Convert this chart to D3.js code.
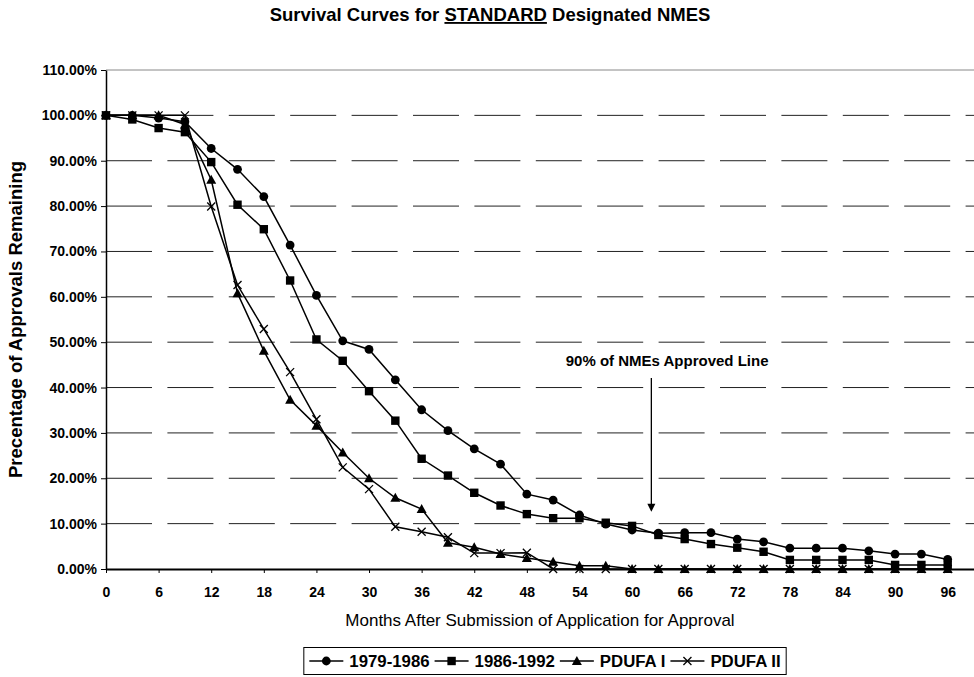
<!DOCTYPE html>
<html>
<head>
<meta charset="utf-8">
<script src="https://cdn.jsdelivr.net/npm/d3@7/dist/d3.min.js"></script>
<style>
  body { margin: 0; background: #fff; }
  svg { font-family: Arial, "Liberation Sans", sans-serif; }
</style>
</head>
<body>
<div class="main"></div>
<script>
// Paramètres du graphique
const width = 974;
const height = 677;
const margin = { top: 70, right: 0, bottom: 108, left: 106 };

// Données (mois après soumission, % restant)
const months = [0, 3, 6, 9, 12, 15, 18, 21, 24, 27, 30, 33, 36, 39, 42, 45, 48,
  51, 54, 57, 60, 63, 66, 69, 72, 75, 78, 81, 84, 87, 90, 93, 96];

const s1979 = [100, 100, 99.4, 98.6, 92.7, 88.1, 82.1, 71.4, 60.3, 50.3, 48.4, 41.7, 35.1,
  30.5, 26.5, 23.1, 16.5, 15.2, 11.9, 9.9, 8.6, 7.9, 8.0, 8.0, 6.6, 6.0, 4.6, 4.6, 4.6,
  4.0, 3.3, 3.3, 2.1];
const s1986 = [100, 99.1, 97.2, 96.3, 89.7, 80.3, 74.9, 63.6, 50.6, 45.9, 39.2, 32.7, 24.3,
  20.6, 16.8, 14.0, 12.1, 11.2, 11.2, 10.2, 9.5, 7.5, 6.6, 5.5, 4.7, 3.8, 2.0, 2.0, 2.0,
  2.0, 0.9, 0.9, 0.9];
const pdufa1 = [100, 100, 100, 98.0, 85.8, 60.8, 48.1, 37.3, 31.6, 25.7, 20.0, 15.7, 13.2,
  5.8, 4.8, 3.3, 2.4, 1.6, 0.7, 0.7, 0, 0, 0, 0, 0, 0, 0, 0, 0, 0, 0, 0, 0];
const pdufa2 = [100, 100, 100, 100, 79.9, 62.6, 52.9, 43.4, 33.0, 22.4, 17.6, 9.3, 8.2,
  7.0, 3.5, 3.5, 3.6, 0, 0, 0, 0, 0, 0, 0, 0, 0, 0, 0, 0, 0, 0, 0, 0];

const seriesNames = ['1979-1986', '1986-1992', 'PDUFA I', 'PDUFA II'];
const seriesValues = [s1979, s1986, pdufa1, pdufa2];
const markers = ['circle', 'square', 'triangle', 'cross'];

const xTicks = [0, 6, 12, 18, 24, 30, 36, 42, 48, 54, 60, 66, 72, 78, 84, 90, 96];
const yTicks = [0, 10, 20, 30, 40, 50, 60, 70, 80, 90, 100, 110];

// Annotation : flèche "90% of NMEs Approved Line"
const annotText = '90% of NMEs Approved Line';
const annotMonth = 62.2;
const annotTextMonth = 64;
const annotFrom = 42.1;
const annotTo = 12.6;

const series = seriesNames.map((name, i) => ({
  name: name,
  marker: markers[i],
  points: months.map((m, j) => ({ mois: m, val: seriesValues[i][j] }))
}));

// Créer l'élément SVG
const svg = d3.select('.main')
  .append('svg')
  .attr('width', width)
  .attr('height', height);

// Échelles
const x = d3.scaleLinear()
  .domain([0, 99])
  .range([margin.left, width - margin.right]);

const y = d3.scaleLinear()
  .domain([0, 110])
  .range([height - margin.bottom, margin.top]);

// Titre
const title = svg.append('text')
  .attr('x', 490)
  .attr('y', 21)
  .attr('text-anchor', 'middle')
  .style('font-weight', 'bold')
  .style('font-size', '18.5px');
title.append('tspan').text('Survival Curves for ');
title.append('tspan').style('text-decoration', 'underline').text('STANDARD');
title.append('tspan').text(' Designated NMES');

// Lignes de la grille
svg.append('g')
  .selectAll('line')
  .data(yTicks.filter(d => d > 0))
  .enter()
  .append('line')
  .attr('x1', x(0))
  .attr('x2', width - margin.right)
  .attr('y1', d => y(d))
  .attr('y2', d => y(d))
  .attr('stroke', d => d === 110 ? '#888' : '#222')
  .attr('stroke-width', 1)
  .attr('stroke-dasharray', d => d === 110 ? null : '46 15.4');

// Axe vertical
const yAxis = svg.append('g')
  .attr('transform', `translate(${x(0)}, 0)`)
  .call(d3.axisLeft(y).tickValues(yTicks).tickSize(5).tickSizeOuter(0)
    .tickFormat(d => d.toFixed(2) + '%'));
yAxis.select('.domain').attr('stroke-width', 1.5);
yAxis.selectAll('text')
  .attr('x', -9)
  .style('font-size', '14px')
  .style('font-weight', 'bold')
  .style('font-family', 'Arial, "Liberation Sans", sans-serif');

// Axe horizontal
const xAxis = svg.append('g')
  .attr('transform', `translate(0, ${y(0)})`)
  .call(d3.axisBottom(x).tickValues(xTicks).tickSize(4).tickSizeOuter(0));
xAxis.select('.domain').attr('stroke-width', 2);
xAxis.selectAll('text')
  .attr('y', 28)
  .attr('dy', null)
  .style('font-size', '14px')
  .style('font-weight', 'bold')
  .style('font-family', 'Arial, "Liberation Sans", sans-serif');

// Titres des axes
svg.append('text')
  .attr('transform', `translate(22, ${(y(0) + y(110)) / 2}) rotate(-90)`)
  .attr('text-anchor', 'middle')
  .style('font-size', '18.5px')
  .style('font-weight', 'bold')
  .text('Precentage of Approvals Remaining');

svg.append('text')
  .attr('x', (x(0) + width - margin.right) / 2)
  .attr('y', 626)
  .attr('text-anchor', 'middle')
  .style('font-size', '17px')
  .text('Months After Submission of Application for Approval');

// Symboles
function drawMarker(g, type) {
  if (type === 'circle') {
    g.append('circle').attr('r', 4.4).attr('fill', '#000');
  } else if (type === 'square') {
    g.append('rect').attr('x', -4.2).attr('y', -4.2).attr('width', 8.4).attr('height', 8.4).attr('fill', '#000');
  } else if (type === 'triangle') {
    g.append('path').attr('d', 'M0,-5L5,4L-5,4Z').attr('fill', '#000');
  } else {
    g.append('path').attr('d', 'M-4,-4L4,4M-4,4L4,-4').attr('stroke', '#000').attr('stroke-width', 1.3).attr('fill', 'none');
  }
}

const line = d3.line()
  .x(d => x(d.mois))
  .y(d => y(d.val));

const serieG = svg.append('g')
  .selectAll('g')
  .data(series)
  .enter()
  .append('g');

serieG.append('path')
  .attr('d', d => line(d.points))
  .attr('fill', 'none')
  .attr('stroke', '#000')
  .attr('stroke-width', 1.5);

serieG.each(function (s) {
  d3.select(this).selectAll('g.pt')
    .data(s.points)
    .enter()
    .append('g')
    .attr('class', 'pt')
    .attr('transform', d => `translate(${x(d.mois)}, ${y(d.val)})`)
    .each(function () { drawMarker(d3.select(this), s.marker); });
});

// Annotation
svg.append('text')
  .attr('x', x(annotTextMonth))
  .attr('y', y(annotFrom) - 12)
  .attr('text-anchor', 'middle')
  .style('font-size', '15px')
  .style('font-weight', 'bold')
  .text(annotText);

svg.append('line')
  .attr('x1', x(annotMonth))
  .attr('x2', x(annotMonth))
  .attr('y1', y(annotFrom))
  .attr('y2', y(annotTo) - 6)
  .attr('stroke', '#000')
  .attr('stroke-width', 1.3);

svg.append('path')
  .attr('d', `M${x(annotMonth) - 4},${y(annotTo) - 8}L${x(annotMonth) + 4},${y(annotTo) - 8}L${x(annotMonth)},${y(annotTo)}Z`)
  .attr('fill', '#000');

// Légende
const legend = svg.append('g');
const legBox = legend.append('rect');
let cx = 0;
series.forEach(s => {
  const item = legend.append('g').attr('transform', `translate(${cx}, 0)`);
  item.append('line').attr('x1', 0).attr('x2', 34).attr('stroke', '#000').attr('stroke-width', 1.5);
  drawMarker(item.append('g').attr('transform', 'translate(17, 0)'), s.marker);
  const t = item.append('text')
    .attr('x', 40)
    .attr('dy', '0.36em')
    .style('font-size', '16.8px')
    .style('font-weight', 'bold')
    .text(s.name);
  cx += 40 + t.node().getComputedTextLength() + 5;
});
const legW = cx - 5;
const legX = 545 - legW / 2;
legend.attr('transform', `translate(${legX}, 661)`);
legBox
  .attr('x', -5.5)
  .attr('y', -13.5)
  .attr('width', legW + 11)
  .attr('height', 27)
  .attr('fill', '#fff')
  .attr('stroke', '#000')
  .attr('stroke-width', 1);
</script>
</body>
</html>
